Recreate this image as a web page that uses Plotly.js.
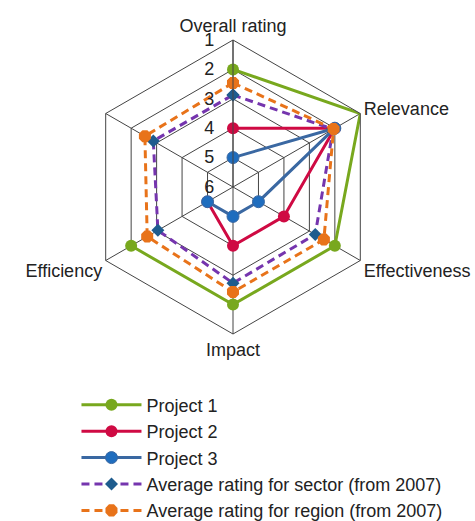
<!DOCTYPE html>
<html>
<head>
<meta charset="utf-8">
<script src="https://cdn.plot.ly/plotly-3.0.1.min.js"></script>
<style>html,body{margin:0;padding:0;background:#fff;}#chart{width:475px;height:521px;}</style>
</head>
<body>
<div id="chart"></div>
<script>
const categories = ['Overall rating', 'Relevance', 'Effectiveness', 'Impact', 'Efficiency', ' '];
const projectCategories = ['Overall rating', 'Relevance', 'Effectiveness', 'Impact', 'Efficiency'];
const project1 = [2, 1, 2, 2, 2];
const project2 = [4, 2, 4, 4, 5];
const project3 = [5, 2, 5, 5, 5];
const sectorAvg = [2.87, 2.07, 2.77, 2.73, 3.05, 2.87];
const regionAvg = [2.46, 2.05, 2.43, 2.43, 2.63, 2.54];
const radialTicks = [1, 2, 3, 4, 5, 6];
const seriesNames = ['Project 1', 'Project 2', 'Project 3',
  'Average rating for sector (from 2007)', 'Average rating for region (from 2007)'];

function closed(arr) { return arr.concat([arr[0]]); }

const traces = [
  {type: 'scatterpolar', mode: 'lines+markers', name: seriesNames[0],
   r: project1, theta: projectCategories,
   line: {color: '#78A81E', width: 3},
   marker: {color: '#78A81E', size: 12}},
  {type: 'scatterpolar', mode: 'lines+markers', name: seriesNames[1],
   r: project2, theta: projectCategories,
   line: {color: '#CF0A43', width: 3},
   marker: {color: '#CF0A43', size: 12}},
  {type: 'scatterpolar', mode: 'lines+markers', name: seriesNames[2],
   r: project3, theta: projectCategories,
   line: {color: '#3A68A2', width: 3},
   marker: {color: '#1F6DBE', size: 12, line: {color: '#3A68A2', width: 1}}},
  {type: 'scatterpolar', mode: 'lines+markers', name: seriesNames[3],
   r: closed(sectorAvg), theta: closed(categories),
   line: {color: '#7535AE', width: 3, dash: '8px,5px'},
   marker: {color: '#1E5C8E', size: 10, symbol: 'diamond'}},
  {type: 'scatterpolar', mode: 'lines+markers', name: seriesNames[4],
   r: closed(regionAvg), theta: closed(categories),
   line: {color: '#E8731A', width: 3, dash: '8px,5px'},
   marker: {color: '#E8731A', size: 13, symbol: 'octagon'}}
];

const layout = {
  width: 475, height: 521,
  margin: {l: 0, r: 0, t: 0, b: 0, autoexpand: false},
  paper_bgcolor: '#ffffff',
  font: {family: 'Liberation Sans, Arial, sans-serif', size: 18, color: '#222'},
  showlegend: true,
  legend: {x: 0.161, xanchor: 'left', y: 0.258, yanchor: 'top',
           font: {size: 18, color: '#222'}, itemwidth: 60, tracegroupgap: 0,
           bgcolor: 'rgba(0,0,0,0)'},
  polar: {
    domain: {x: [86/475, 380/475], y: [1 - 334/521, 1 - 40/521]},
    gridshape: 'linear',
    bgcolor: '#ffffff',
    angularaxis: {
      type: 'category', categoryarray: categories,
      rotation: 90, direction: 'clockwise',
      showline: true, linecolor: '#444', linewidth: 1,
      showgrid: true, gridcolor: '#444', gridwidth: 1,
      ticks: '', tickfont: {size: 18, color: '#222'}
    },
    radialaxis: {
      range: [6, 1], angle: 90, side: 'counterclockwise',
      tickvals: radialTicks, ticktext: radialTicks.map(String),
      showline: true, linecolor: '#444', linewidth: 1,
      showgrid: true, gridcolor: '#444', gridwidth: 1,
      ticks: 'outside', ticklen: 12, tickcolor: 'rgba(0,0,0,0)',
      tickfont: {size: 18, color: '#222'}, tickangle: 90
    }
  }
};

Plotly.newPlot('chart', traces, layout, {displayModeBar: false, staticPlot: true});
</script>
</body>
</html>
